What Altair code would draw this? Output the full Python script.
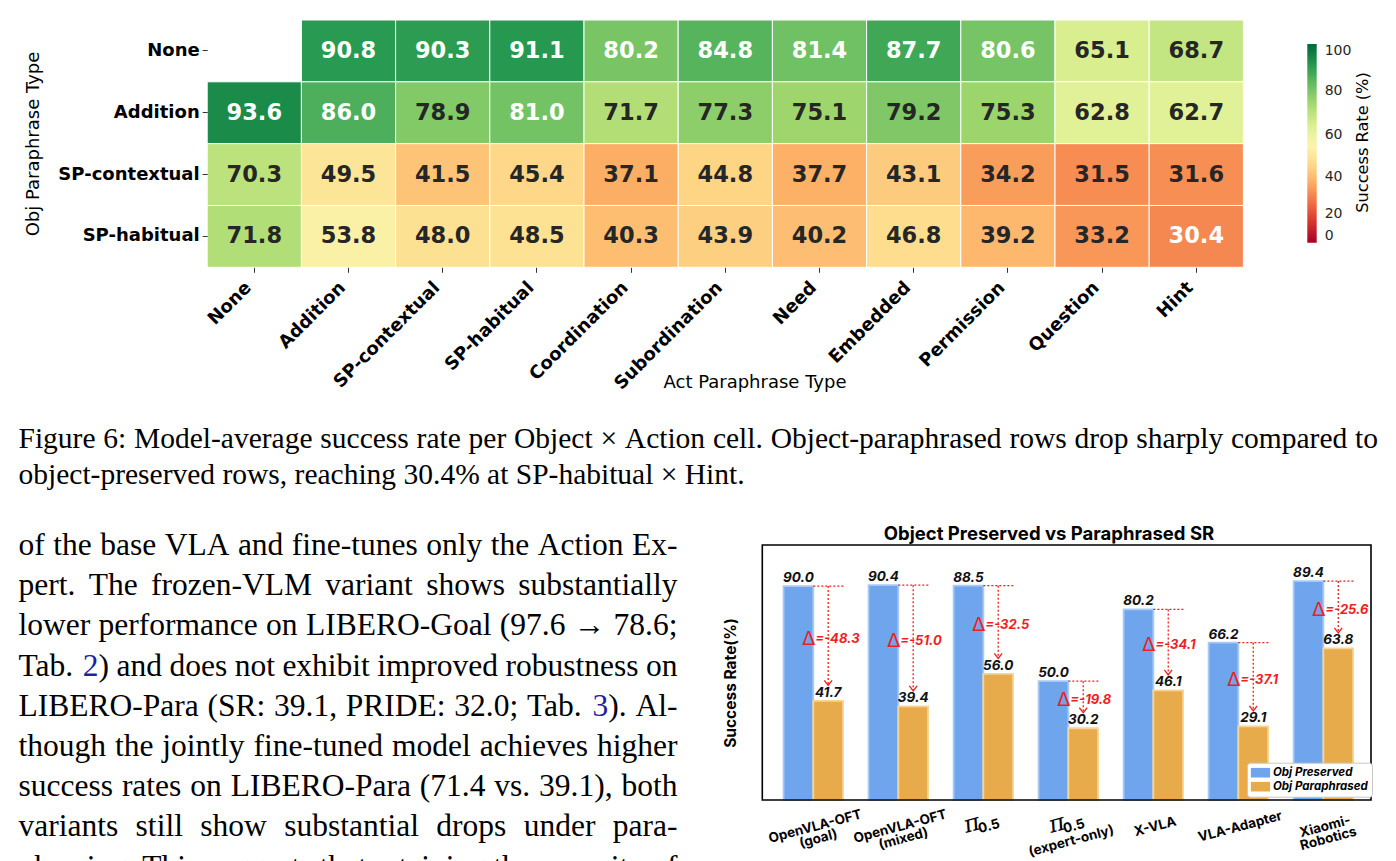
import re
import altair as alt
import pandas as pd

# ---------------- heatmap data ----------------
act_types = ["None", "Addition", "SP-contextual", "SP-habitual", "Coordination",
             "Subordination", "Need", "Embedded", "Permission", "Question", "Hint"]
obj_types = ["None", "Addition", "SP-contextual", "SP-habitual"]
sr_obj_none = [None, 90.8, 90.3, 91.1, 80.2, 84.8, 81.4, 87.7, 80.6, 65.1, 68.7]
sr_obj_addition = [93.6, 86.0, 78.9, 81.0, 71.7, 77.3, 75.1, 79.2, 75.3, 62.8, 62.7]
sr_obj_sp_contextual = [70.3, 49.5, 41.5, 45.4, 37.1, 44.8, 37.7, 43.1, 34.2, 31.5, 31.6]
sr_obj_sp_habitual = [71.8, 53.8, 48.0, 48.5, 40.3, 43.9, 40.2, 46.8, 39.2, 33.2, 30.4]
colorbar_ticks = [0, 20, 40, 60, 80, 100]

# ---------------- bar chart data ----------------
models = ["OpenVLA-OFT\n(goal)", "OpenVLA-OFT\n(mixed)", "π0.5", "π0.5\n(expert-only)",
          "X-VLA", "VLA-Adapter", "Xiaomi-\nRobotics"]
preserved_label = [90.0, 90.4, 88.5, 50.0, 80.2, 66.2, 89.4]
paraphrased_label = [41.7, 39.4, 56.0, 30.2, 46.1, 29.1, 63.8]
preserved_bar = [90.0, 90.4, 90.2, 50.0, 80.2, 66.2, 92.1]
paraphrased_bar = [41.7, 39.4, 53.1, 30.2, 46.1, 31.0, 63.8]
series = ["Obj Preserved", "Obj Paraphrased"]
bar_ticks = [0, 20, 40, 60, 80, 100]

# ---------------- page text ----------------
caption_lines = [
    "Figure 6: Model-average success rate per Object × Action cell. Object-paraphrased rows drop sharply compared to",
    "object-preserved rows, reaching 30.4% at SP-habitual × Hint.",
]
body_lines = [
    "of the base VLA and fine-tunes only the Action Ex-",
    "pert. The frozen-VLM variant shows substantially",
    "lower performance on LIBERO-Goal (97.6 → 78.6;",
    "Tab. {2}) and does not exhibit improved robustness on",
    "LIBERO-Para (SR: 39.1, PRIDE: 32.0; Tab. {3}). Al-",
    "though the jointly fine-tuned model achieves higher",
    "success rates on LIBERO-Para (71.4 vs. 39.1), both",
    "variants still show substantial drops under para-",
    "phrasing. This suggests that retaining the capacity of",
]

# Times / Liberation Serif advance widths (1/1000 em) used to justify lines
TW = {" ": 250, "%": 833, "(": 333, ")": 333, ",": 250, "-": 333, ".": 250, ":": 278,
      ";": 278, "×": 564, "→": 1000}
TW.update({d: 500 for d in "0123456789"})
TW.update(dict(zip("ABCDEFGHIJKLMNOPQRSTUVWXYZ",
                   [722, 667, 667, 722, 611, 556, 722, 722, 333, 389, 722, 611, 889, 722, 722,
                    556, 722, 667, 556, 611, 722, 722, 944, 722, 722, 611])))
TW.update(dict(zip("abcdefghijklmnopqrstuvwxyz",
                   [444, 500, 444, 500, 444, 333, 500, 500, 278, 278, 500, 278, 778, 500, 500,
                    500, 500, 333, 389, 278, 500, 500, 722, 500, 500, 444])))
LINK = "#1f1fa0"


def tw(s, size):
    return sum(TW.get(ch, 500) for ch in s) * size / 1000.0


def layout(lines, x0, x1, ybase, lead, size, justify_last):
    out = []
    for k, line in enumerate(lines):
        words = line.split(" ")
        plain = [w.replace("{", "").replace("}", "") for w in words]
        widths = [tw(w, size) for w in plain]
        just = (k < len(lines) - 1) or justify_last
        gap = (x1 - x0 - sum(widths)) / (len(words) - 1) if just else TW[" "] * size / 1000.0
        x = x0
        for w, wd in zip(words, widths):
            sx = x
            for seg in re.split(r"(\{[^}]*\})", w):
                if not seg:
                    continue
                if seg.startswith("{"):
                    t, c = seg[1:-1], LINK
                else:
                    t, c = seg, "black"
                out.append({"x": sx, "y": ybase + k * lead, "t": t, "c": c})
                sx += tw(t, size)
            x += wd + gap
    return pd.DataFrame(out)


CAP_SIZE = 29.5
BODY_SIZE = 31.5
caption_df = layout(caption_lines, 18.5, 1378, 448, 35.5, CAP_SIZE, False)
body_df = layout(body_lines, 18.5, 677.5, 555, 40.2, BODY_SIZE, True)


def page_text(df, size):
    return alt.Chart(df).mark_text(font="Liberation Serif", fontSize=size, align="left",
                                   baseline="alphabetic").encode(
        x=alt.X("x:Q", scale=None, axis=None),
        y=alt.Y("y:Q", scale=None, axis=None),
        text="t:N",
        color=alt.Color("c:N", scale=None),
    )


ONE = pd.DataFrame({"k": [0]})


def label(text, x, y, size, font="DejaVu Sans", weight="normal", angle=0, align="center",
          baseline="middle", style="normal"):
    return alt.Chart(ONE).mark_text(text=text, font=font, fontSize=size, fontWeight=weight,
                                    fontStyle=style, angle=angle, align=align, baseline=baseline,
                                    color="black").encode(x=alt.value(x), y=alt.value(y))


# ---------------- heatmap ----------------
rows = []
for o, vals in zip(obj_types, [sr_obj_none, sr_obj_addition, sr_obj_sp_contextual, sr_obj_sp_habitual]):
    for a, v in zip(act_types, vals):
        if v is not None:
            rows.append({"obj": o, "act": a, "sr": v})
heat_df = pd.DataFrame(rows)

HEAT_L, HEAT_R, HEAT_T, HEAT_B = 207.2, 1243.4, 20.0, 267.3
HX = alt.X("act:N", sort=act_types, title=None,
           scale=alt.Scale(domain=act_types, range=[HEAT_L, HEAT_R], paddingInner=0, paddingOuter=0),
           axis=alt.Axis(orient="bottom", offset=HEAT_B - 861, labelAngle=-45, labelAlign="right",
                         labelBaseline="top", labelFont="DejaVu Sans", labelFontSize=18,
                         labelFontWeight="bold", labelColor="black", labelOffset=-12, labelPadding=6,
                         labelLimit=400, labelOverlap=False, tickSize=5, tickColor="#333333",
                         tickWidth=1, domain=False, grid=False))
HY = alt.Y("obj:N", sort=obj_types, title=None,
           scale=alt.Scale(domain=obj_types, range=[HEAT_T, HEAT_B], paddingInner=0, paddingOuter=0),
           axis=alt.Axis(orient="left", offset=-HEAT_L, labelFont="DejaVu Sans", labelFontSize=18,
                         labelFontWeight="bold", labelColor="black", labelPadding=3, labelLimit=400,
                         tickSize=5, tickColor="#333333", tickWidth=1, domain=False, grid=False))

heat_rect = alt.Chart(heat_df).mark_rect(stroke="white", strokeWidth=1).encode(
    x=HX, y=HY,
    color=alt.Color("sr:Q",
                    scale=alt.Scale(type="pow", exponent=1.2, scheme="redyellowgreen",
                                    domain=[0, 100], zero=False),
                    legend=alt.Legend(orient="none", legendX=1307.3, legendY=44, direction="vertical",
                                      gradientLength=198.7, gradientThickness=9.4, title=None,
                                      values=colorbar_ticks, labelFont="DejaVu Sans",
                                      labelFontSize=14, labelColor="#262626", labelOffset=8,
                                      labelBaseline="middle", labelOverlap=False, padding=0,
                                      gradientStrokeWidth=0)),
)
heat_text = alt.Chart(heat_df).mark_text(font="DejaVu Sans", fontSize=22.5, fontWeight="bold").encode(
    x=HX, y=HY,
    text=alt.Text("sr:Q", format=".1f"),
    color=alt.condition("datum.sr >= 80 || datum.sr <= 30.5", alt.value("white"), alt.value("#262626")),
)
heat = alt.layer(heat_rect, heat_text)

# ---------------- bar chart ----------------
BW = 0.35
XB = alt.Scale(domain=[-0.6, 6.56], range=[762.3, 1371], nice=False, zero=False)
YB = alt.Scale(domain=[0, 107.3], range=[800, 545], nice=False, zero=False)
RED = "#f01e1e"
BLUE, ORANGE = "#6ea5ec", "#e8ab4b"

brows = []
for i in range(len(models)):
    brows.append({"series": series[0], "x0": i - BW, "x1": i, "xc": i - BW / 2, "h": preserved_bar[i],
                  "base": 0, "lab": f"{preserved_label[i]:.1f}"})
    brows.append({"series": series[1], "x0": i, "x1": i + BW, "xc": i + BW / 2, "h": paraphrased_bar[i],
                  "base": 0, "lab": f"{paraphrased_label[i]:.1f}"})
bar_df = pd.DataFrame(brows)

drows = []
for i in range(len(models)):
    drows.append({"i": i, "xa": i + BW / 2, "xr": i + BW + 0.02, "top": preserved_bar[i],
                  "end": paraphrased_bar[i] + 6.5,
                  "mid": (preserved_bar[i] + paraphrased_bar[i]) / 2 + 2,
                  "dtext": "=" + f"{paraphrased_label[i] - preserved_label[i]:.1f}"})
delta_df = pd.DataFrame(drows)

lab_rows, pi_rows = [], []
for i, m in enumerate(models):
    if m.startswith("π"):
        parts = m.split("\n")
        pi_rows.append({"i": i, "sub": parts[0][1:], "note": parts[1] if len(parts) > 1 else ""})
    else:
        lab_rows.append({"i": i, "name": m})
lab_df = pd.DataFrame(lab_rows)
pi_df = pd.DataFrame(pi_rows)

bar_rect = alt.Chart(bar_df).mark_rect(strokeWidth=1.8).encode(
    x=alt.X("x0:Q", scale=XB, title=None,
            axis=alt.Axis(orient="bottom", offset=800 - 861, values=list(range(len(models))),
                          labels=False, tickSize=4, tickColor="black", tickWidth=1, domain=False,
                          grid=False)),
    x2="x1:Q",
    y=alt.Y("h:Q", scale=YB, title=None,
            axis=alt.Axis(orient="left", offset=-762.3, values=bar_ticks, labelFont="Inter",
                          labelFontWeight="bold", labelFontSize=13.5, labelColor="black",
                          labelPadding=4, ticks=False, domain=False, grid=True,
                          gridColor="#d4d4d4", gridDash=[2, 3], gridWidth=1)),
    y2="base:Q",
    color=alt.Color("series:N", scale=alt.Scale(domain=series, range=[BLUE, ORANGE]),
                    legend=alt.Legend(orient="none", legendX=1247, legendY=762.7, title=None,
                                      strokeColor="#c8c8c8", fillColor="white", cornerRadius=3,
                                      padding=4, labelFont="Inter", labelFontSize=11.5,
                                      labelFontStyle="italic", labelFontWeight="bold",
                                      labelColor="black", labelOffset=6.5, symbolOffset=3.5,
                                      symbolType="M-1.6,-0.8H1.6V0.8H-1.6Z", symbolSize=144,
                                      symbolStrokeWidth=0, symbolOpacity=1, rowPadding=2)),
    stroke=alt.condition(alt.datum.series == series[0], alt.value("#a9c9f5"), alt.value("#f7d596")),
)
bar_text = alt.Chart(bar_df).mark_text(font="Inter", fontSize=13.5, fontWeight="bold", fontStyle="italic",
                                       baseline="bottom", dy=-1, color="#111111").encode(
    x=alt.X("xc:Q", scale=XB, axis=None), y=alt.Y("h:Q", scale=YB, axis=None), text="lab:N")

hrule = alt.Chart(delta_df).mark_rule(color=RED, strokeDash=[2, 2], strokeWidth=1.3).encode(
    x=alt.X("i:Q", scale=XB, axis=None), x2="xr:Q", y=alt.Y("top:Q", scale=YB, axis=None))
vrule = alt.Chart(delta_df).mark_rule(color=RED, strokeDash=[2, 2], strokeWidth=1.3).encode(
    x=alt.X("xa:Q", scale=XB, axis=None), y=alt.Y("top:Q", scale=YB, axis=None), y2="end:Q")
arrow = alt.Chart(delta_df).mark_point(shape="M-1,-1.3L0,0L1,-1.3", filled=False, size=60, color=RED,
                                       strokeWidth=1.3, opacity=1).encode(
    x=alt.X("xa:Q", scale=XB, axis=None), y=alt.Y("end:Q", scale=YB, axis=None))
dsym = alt.Chart(delta_df).mark_text(text="Δ", font="DejaVu Sans", fontSize=19, color=RED,
                                     align="left", baseline="middle", dx=-26).encode(
    x=alt.X("xa:Q", scale=XB, axis=None), y=alt.Y("mid:Q", scale=YB, axis=None))
dtxt = alt.Chart(delta_df).mark_text(font="Inter", fontSize=13, fontWeight="bold", fontStyle="italic",
                                     color=RED, align="left", baseline="middle", dx=-13).encode(
    x=alt.X("xa:Q", scale=XB, axis=None), y=alt.Y("mid:Q", scale=YB, axis=None), text="dtext:N")

xlab = alt.Chart(lab_df).mark_text(font="Inter", fontSize=13.5, fontWeight="bold", angle=345,
                                   align="center", baseline="top", lineBreak="\n", lineHeight=12.5,
                                   color="black").encode(
    x=alt.X("i:Q", scale=XB, axis=None), y=alt.value(820), text="name:N")
pi_sym = alt.Chart(pi_df).mark_text(text="π", font="DejaVu Serif", fontSize=24, fontStyle="italic",
                                    angle=345, align="center", baseline="middle", dx=-12,
                                    color="black").encode(
    x=alt.X("i:Q", scale=XB, axis=None), y=alt.value(821))
pi_sub = alt.Chart(pi_df).mark_text(font="Inter", fontSize=13.5, fontWeight="bold", angle=345,
                                    align="left", baseline="middle", dx=-5, color="black").encode(
    x=alt.X("i:Q", scale=XB, axis=None), y=alt.value(828), text="sub:N")
pi_note = alt.Chart(pi_df).mark_text(font="Inter", fontSize=13.5, fontWeight="bold", angle=345,
                                     align="center", baseline="middle", dx=3, color="black").encode(
    x=alt.X("i:Q", scale=XB, axis=None), y=alt.value(842), text="note:N")

bars = alt.layer(bar_rect, bar_text, hrule, vrule, arrow, dsym, dtxt, xlab, pi_sym, pi_sub, pi_note)

frame = alt.Chart(ONE).mark_rect(fillOpacity=0, stroke="black", strokeWidth=1.6).encode(
    x=alt.value(762.3), x2=alt.value(1371), y=alt.value(545), y2=alt.value(800))

texts = [
    label("Obj Paraphrase Type", 33.5, 144, 18, angle=270),
    label("Act Paraphrase Type", 755, 388, 18, baseline="alphabetic"),
    label("Success Rate (%)", 1363.3, 142.5, 16.2, angle=270),
    label("Object Preserved vs Paraphrased SR", 1049, 540, 18.5, font="Inter", weight="bold",
          baseline="alphabetic"),
    label("Success Rate(%)", 731, 683, 15.5, font="Inter", weight="bold", angle=270),
]

chart = alt.layer(heat, bars, frame, *texts, page_text(caption_df, CAP_SIZE),
                  page_text(body_df, BODY_SIZE)).resolve_scale(
    x="independent", y="independent", color="independent"
).properties(
    width=1396, height=861, padding=0, background="white",
    autosize=alt.AutoSizeParams(type="none"),
).configure_view(strokeWidth=0)

chart.save("out.html", embed_options={"renderer": "svg", "actions": False})
